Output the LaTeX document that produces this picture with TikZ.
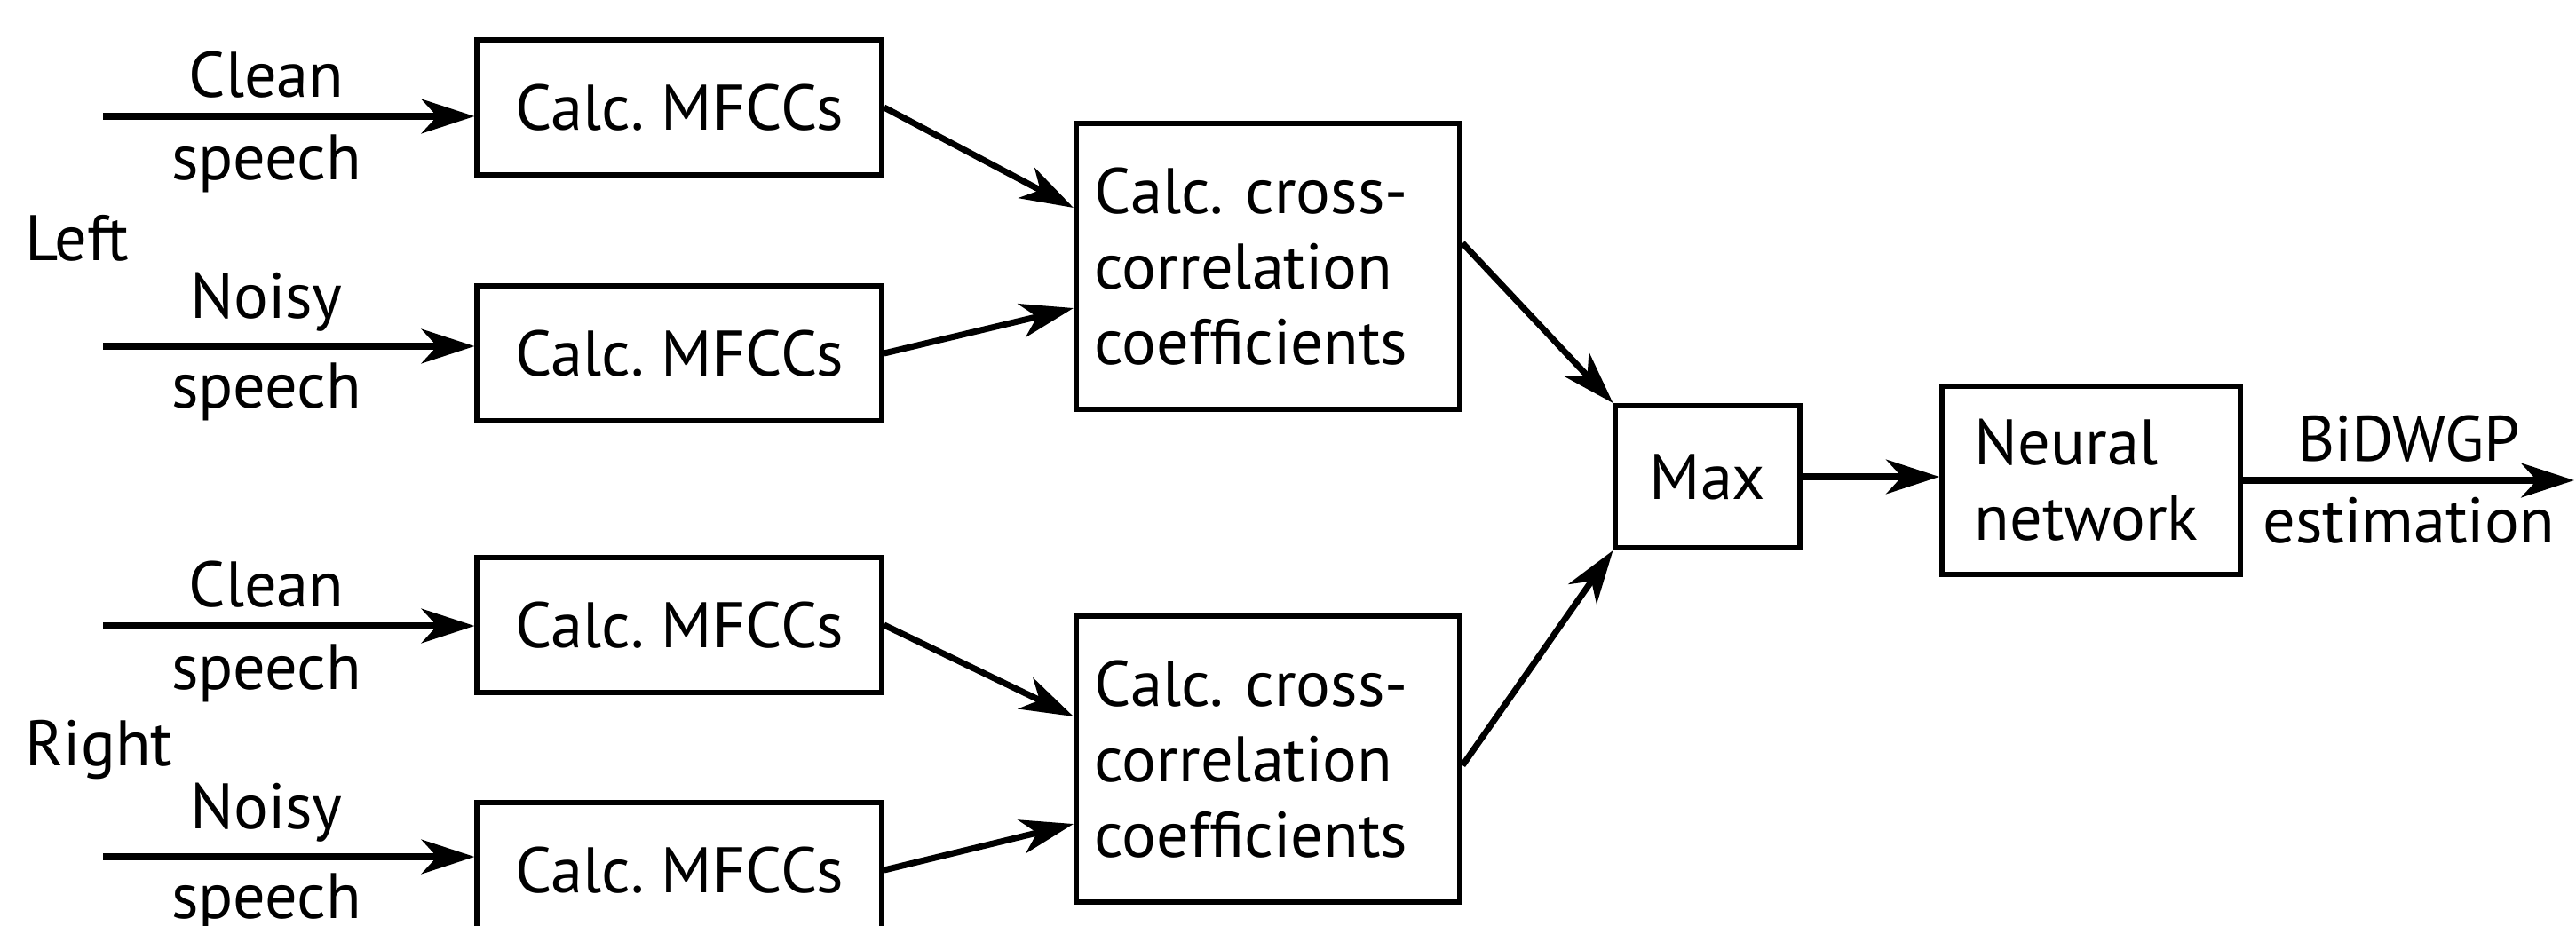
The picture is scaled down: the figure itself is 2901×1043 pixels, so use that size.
\documentclass[tikz,border=0pt]{standalone}
\usepackage{fontspec}
\setmainfont{PT Sans}
\usetikzlibrary{positioning, arrows.meta}

\begin{document}
\begin{tikzpicture}[x=0.01cm, y=-0.01cm,
  font=\fontsize{20.6}{24.2}\selectfont\frenchspacing,
  blk/.style={draw=black, line width=1.7pt, inner sep=0pt, align=left},
  mfcc/.style={blk, minimum width=4.55cm, minimum height=1.52cm},
  xcorr/.style={blk, minimum width=4.32cm, minimum height=3.22cm, inner xsep=0.21cm, text width=3.9cm},
  arr/.style={line width=2pt, -{Stealth[length=17pt, width=11pt, inset=5pt]}}]
  \useasboundingbox (0,0) rectangle (2901,1043);

  \node[mfcc] (m1) at (765,121) {Calc. MFCCs};
  \node[mfcc] (m2) at (765,398) {Calc. MFCCs};
  \node[mfcc] (m3) at (765,704) {Calc. MFCCs};
  \node[mfcc] (m4) at (765,980) {Calc. MFCCs};

  \node[xcorr] (c1) at (1428,300) {Calc. cross-\\correlation\\coefficients};
  \node[xcorr] (c2) at (1428,855) {Calc. cross-\\correlation\\coefficients};

  \node[blk, minimum width=2.07cm, minimum height=1.60cm] (mx) at (1923,537) {Max};
  \node[blk, minimum width=3.36cm, minimum height=2.11cm, inner xsep=0.37cm, text width=2.62cm] (nn) at (2355,541) {Neural\\network};

  \node[anchor=west, inner sep=0pt] (lt) at (28,268) {Left};
  \node[anchor=west, inner sep=0pt] (rt) at (28,845) {Right};

  \coordinate (i1) at (116,131);
  \coordinate (i2) at (116,390);
  \coordinate (i3) at (116,705);
  \coordinate (i4) at (116,965);
  \coordinate (out) at (2899,541);

  % inputs
  \draw[arr] (i1) -- node[pos=0.44, above=1.5pt]{Clean} node[pos=0.44, below=1.5pt]{speech} (i1 -| m1.west);
  \draw[arr] (i2) -- node[pos=0.44, above=0.5pt]{Noisy} node[pos=0.44, below=1pt]{speech} (i2 -| m2.west);
  \draw[arr] (i3) -- node[pos=0.44, above=1.5pt]{Clean} node[pos=0.44, below=1.5pt]{speech} (i3 -| m3.west);
  \draw[arr] (i4) -- node[pos=0.44, above=0.5pt]{Noisy} node[pos=0.44, below=1pt]{speech} (i4 -| m4.west);

  \draw[arr] (m1.east) -- ([yshift=0.66cm]c1.west);
  \draw[arr] (m2.east) -- ([yshift=-0.47cm]c1.west);
  \draw[arr] (m3.east) -- ([yshift=0.48cm]c2.west);
  \draw[arr] (m4.east) -- ([yshift=-0.73cm]c2.west);

  \draw[arr] ([yshift=0.26cm]c1.east) -- (mx.north west);
  \draw[arr] ([yshift=-0.07cm]c2.east) -- (mx.south west);

  \draw[arr] (mx.east) -- (mx.east -| nn.west);
  \draw[arr] (nn.east |- out) -- node[above=1.5pt]{BiDWGP} node[below=1pt]{estimation} (out);
\end{tikzpicture}
\end{document}
